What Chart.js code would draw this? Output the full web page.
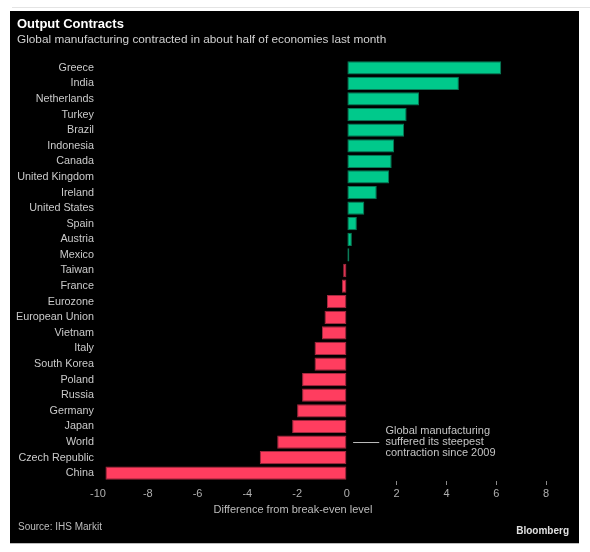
<!DOCTYPE html>
<html>
<head>
<meta charset="utf-8">
<script src="https://cdn.jsdelivr.net/npm/chart.js@4"></script>
<style>
  body { margin: 0; background: #fff; }
  #wrap { position: relative; width: 590px; height: 552px; }
  #topline { position: absolute; left: 12px; top: 7px; width: 578px; height: 1px; background: #e4e4e4; }
  #frame { position: absolute; left: 10px; top: 11px; width: 569px; height: 532px; background: #000; border-bottom: 1px solid #bbb; }
  #chart { position: absolute; left: 0; top: 0; }
</style>
</head>
<body>
<div id="wrap">
  <div id="topline"></div>
  <div id="frame"></div>
  <canvas id="chart" width="590" height="552"></canvas>
</div>
<script>
// PMI minus 50, last month
var countries = ["Greece", "India", "Netherlands", "Turkey", "Brazil", "Indonesia", "Canada",
  "United Kingdom", "Ireland", "United States", "Spain", "Austria", "Mexico", "Taiwan", "France",
  "Eurozone", "European Union", "Vietnam", "Italy", "South Korea", "Poland", "Russia", "Germany",
  "Japan", "World", "Czech Republic", "China"];
var diff = [6.2, 4.5, 2.9, 2.4, 2.3, 1.9, 1.8, 1.7, 1.2, 0.7, 0.4, 0.2, 0.1, -0.15, -0.2,
  -0.8, -0.9, -1.0, -1.3, -1.3, -1.8, -1.8, -2.0, -2.2, -2.8, -3.5, -9.7];
var xTicks = [-10, -8, -6, -4, -2, 0, 2, 4, 6, 8];
var note = ["Global manufacturing", "suffered its steepest", "contraction since 2009"];

var green = "#00c98b", red = "#ff3d5f";

var textPlugin = {
  id: "texts",
  afterDraw: function (chart) {
    var c = chart.ctx;
    var xs = chart.scales.x, ys = chart.scales.y;
    c.save();
    c.textBaseline = "middle";
    c.textAlign = "left";
    c.fillStyle = "#ffffff";
    c.font = "bold 13px 'Liberation Sans', Arial, sans-serif";
    c.fillText("Output Contracts", 17, 24);
    c.fillStyle = "#d0d0d0";
    c.font = "11.8px 'Liberation Sans', Arial, sans-serif";
    c.fillText("Global manufacturing contracted in about half of economies last month", 17, 40);

    // note pointing at World
    var wy = ys.getPixelForValue(countries.indexOf("World"));
    c.strokeStyle = "#bdbdbd";
    c.lineWidth = 1;
    c.beginPath();
    c.moveTo(xs.getPixelForValue(0.25), wy + 0.5);
    c.lineTo(xs.getPixelForValue(1.3), wy + 0.5);
    c.stroke();
    c.fillStyle = "#c4c4c4";
    c.font = "11px 'Liberation Sans', Arial, sans-serif";
    for (var i = 0; i < note.length; i++) {
      c.fillText(note[i], xs.getPixelForValue(1.55), wy + (i - 1) * 11);
    }

    c.textAlign = "center";
    c.fillStyle = "#bdbdbd";
    c.fillText("Difference from break-even level", 293, 510);

    c.textAlign = "left";
    c.font = "10px 'Liberation Sans', Arial, sans-serif";
    c.fillText("Source: IHS Markit", 18, 527);
    c.textAlign = "right";
    c.fillStyle = "#e0e0e0";
    c.font = "bold 10px 'Liberation Sans', Arial, sans-serif";
    c.fillText("Bloomberg", 569, 531);
    c.restore();
  }
};

var ctx = document.getElementById("chart").getContext("2d");
var grafik = new Chart(ctx, {
  type: "bar",
  data: {
    labels: countries,
    datasets: [{
      data: diff,
      backgroundColor: diff.map(function (v) { return v >= 0 ? green : red; }),
      borderColor: diff.map(function (v) { return v >= 0 ? "#0a7a57" : "#a3293f"; }),
      borderWidth: 1,
      borderSkipped: false,
      barPercentage: 0.85,
      categoryPercentage: 1
    }]
  },
  options: {
    indexAxis: "y",
    responsive: false,
    animation: false,
    layout: { padding: { top: 60, bottom: 51, left: 0, right: 44 } },
    plugins: {
      legend: { display: false },
      tooltip: { enabled: false }
    },
    scales: {
      x: {
        min: xTicks[0],
        max: xTicks[xTicks.length - 1],
        afterFit: function (s) { s.height = 20; },
        afterBuildTicks: function (s) { s.ticks = xTicks.map(function (v) { return { value: v }; }); },
        border: { display: false },
        grid: {
          drawOnChartArea: false,
          drawTicks: true,
          tickLength: 4,
          color: function (c) { return c.tick && c.tick.value > 0 ? "#8a8a8a" : "transparent"; }
        },
        ticks: {
          color: "#b0b0b0",
          padding: 2,
          font: { size: 11, family: "'Liberation Sans', Arial, sans-serif" }
        }
      },
      y: {
        afterFit: function (s) { s.width = 98; },
        border: { display: false },
        grid: { display: false, drawTicks: false },
        ticks: {
          color: "#cacaca",
          padding: 4,
          autoSkip: false,
          font: { size: 10.8, family: "'Liberation Sans', Arial, sans-serif" }
        }
      }
    }
  },
  plugins: [textPlugin]
});
</script>
</body>
</html>
